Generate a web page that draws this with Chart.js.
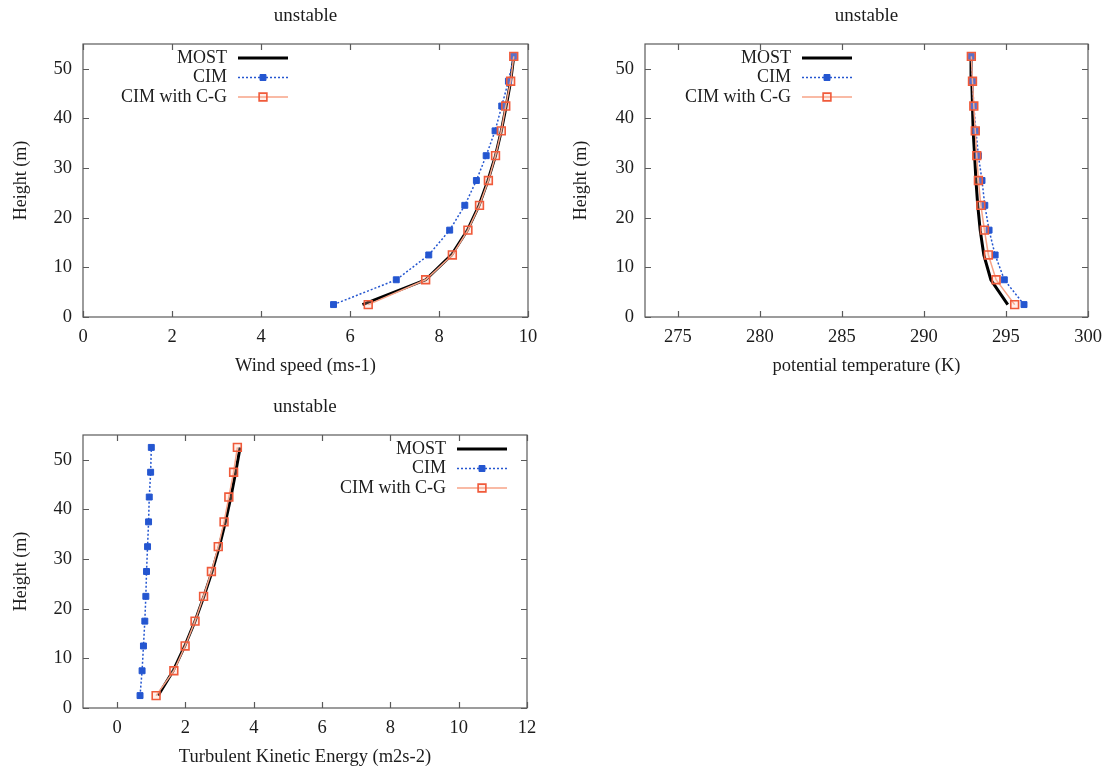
<!DOCTYPE html>
<html>
<head>
<meta charset="utf-8">
<script src="https://cdn.jsdelivr.net/npm/chart.js@4.4.1/dist/chart.umd.min.js"></script>
<style>
    html, body { margin: 0; padding: 0; background: #fff; }
    body { width: 1115px; height: 769px; position: relative; overflow: hidden; }
    canvas { position: absolute; }
</style>
</head>
<body>
<canvas id="windChart" width="560" height="385" style="left:0;top:0"></canvas>
<canvas id="thetaChart" width="555" height="385" style="left:560px;top:0"></canvas>
<canvas id="tkeChart" width="560" height="379" style="left:0;top:390px"></canvas>
<script>
// ------------------------------------------------------------
// data (heights in m, shared by all profiles)
// ------------------------------------------------------------
const heights = [2.5, 7.5, 12.5, 17.5, 22.5, 27.5, 32.5, 37.5, 42.5, 47.5, 52.5];
const heightTicks = [0, 10, 20, 30, 40, 50];
const seriesNames = ["MOST", "CIM", "CIM with C-G"];

// wind speed (ms-1)
const windMost  = [6.28, 7.70, 8.28, 8.64, 8.90, 9.10, 9.27, 9.40, 9.51, 9.61, 9.68];
const windCim   = [5.63, 7.04, 7.77, 8.24, 8.58, 8.84, 9.06, 9.26, 9.41, 9.56, 9.68];
const windCimCg = [6.41, 7.70, 8.30, 8.65, 8.91, 9.11, 9.27, 9.40, 9.50, 9.61, 9.68];
const windTicks = [0, 2, 4, 6, 8, 10];

// potential temperature (K)
const thetaMost  = [295.11, 294.08, 293.65, 293.43, 293.28, 293.17, 293.09, 293.00, 292.96, 292.92, 292.87];
const thetaCim   = [296.10, 294.90, 294.34, 293.97, 293.71, 293.54, 293.32, 293.17, 293.04, 292.96, 292.89];
const thetaCimCg = [295.53, 294.40, 293.93, 293.69, 293.47, 293.32, 293.22, 293.13, 293.04, 292.96, 292.89];
const thetaTicks = [275, 280, 285, 290, 295, 300];

// turbulent kinetic energy (m2s-2)
const tkeMost  = [1.20, 1.64, 1.98, 2.28, 2.54, 2.78, 2.99, 3.17, 3.33, 3.47, 3.60];
const tkeCim   = [0.67, 0.73, 0.77, 0.81, 0.84, 0.86, 0.89, 0.92, 0.94, 0.98, 1.00];
const tkeCimCg = [1.14, 1.66, 1.99, 2.28, 2.53, 2.76, 2.96, 3.13, 3.27, 3.41, 3.52];
const tkeTicks = [0, 2, 4, 6, 8, 10, 12];

// ------------------------------------------------------------
// styles
// ------------------------------------------------------------
const SERIF = '"Liberation Serif", "DejaVu Serif", serif';
const TEXT = "#1c1c1c";
const FRAME = "#5a5a5a";
const BLUE = "#2456d0";
const ORANGE = "#f05a3a";
const ORANGE_LINE = "#f7a387";

Chart.defaults.font.family = SERIF;
Chart.defaults.color = TEXT;

const toPoints = (xs) => xs.map((x, i) => ({ x: x, y: heights[i] }));

function makeDatasets(most, cim, cimCg) {
    return [
        {
            label: seriesNames[0],
            data: toPoints(most),
            borderColor: "#000",
            borderWidth: 3,
            pointRadius: 0,
            showLine: true,
            order: 2
        },
        {
            label: seriesNames[1],
            data: toPoints(cim),
            borderColor: BLUE,
            borderWidth: 1.5,
            borderDash: [2, 2],
            backgroundColor: BLUE,
            pointStyle: "rect",
            pointRadius: 4.2,
            pointBorderWidth: 1,
            pointBorderColor: BLUE,
            pointBackgroundColor: BLUE,
            showLine: true,
            order: 1
        },
        {
            label: seriesNames[2],
            data: toPoints(cimCg),
            borderColor: ORANGE_LINE,
            borderWidth: 1.5,
            pointStyle: "rect",
            pointRadius: 5.5,
            pointBorderWidth: 1.6,
            pointBorderColor: ORANGE,
            pointBackgroundColor: "rgba(255,190,170,0.25)",
            showLine: true,
            order: 0
        }
    ];
}

/**
 * gnuplot style frame: box, inward ticks on all sides,
 * title, axis titles and the right aligned legend
 */
const gnuFrame = {
    id: "gnuFrame",
    afterDraw(chart, args, opts) {
        const ctx = chart.ctx;
        const a = chart.chartArea;
        const xs = chart.scales.x;
        const ys = chart.scales.y;
        const tl = 6;

        ctx.save();
        ctx.strokeStyle = FRAME;
        ctx.lineWidth = 1.2;
        ctx.strokeRect(a.left, a.top, a.right - a.left, a.bottom - a.top);

        ctx.beginPath();
        xs.ticks.forEach(t => {
            const px = Math.round(xs.getPixelForValue(t.value)) + 0.5;
            ctx.moveTo(px, a.bottom); ctx.lineTo(px, a.bottom - tl);
            ctx.moveTo(px, a.top); ctx.lineTo(px, a.top + tl);
        });
        ys.ticks.forEach(t => {
            const py = Math.round(ys.getPixelForValue(t.value)) + 0.5;
            ctx.moveTo(a.left, py); ctx.lineTo(a.left + tl, py);
            ctx.moveTo(a.right, py); ctx.lineTo(a.right - tl, py);
        });
        ctx.stroke();

        // titles
        const cx = (a.left + a.right) / 2;
        ctx.fillStyle = TEXT;
        ctx.textAlign = "center";
        ctx.textBaseline = "middle";
        ctx.font = "19px " + SERIF;
        ctx.fillText(opts.title, cx, opts.titleY);
        ctx.font = "18.5px " + SERIF;
        ctx.fillText(opts.xTitle, cx, opts.xTitleY);

        ctx.save();
        ctx.translate(opts.yTitleX, (a.top + a.bottom) / 2);
        ctx.rotate(-Math.PI / 2);
        ctx.font = "18px " + SERIF;
        ctx.fillText("Height (m)", 0, 0);
        ctx.restore();

        // legend
        ctx.font = "18px " + SERIF;
        ctx.textAlign = "right";
        chart.data.datasets.forEach((ds, i) => {
            const y = opts.legendY + i * 19.5;
            ctx.fillStyle = TEXT;
            ctx.fillText(ds.label, opts.legendX, y);

            const x0 = opts.legendX + 11;
            const x1 = x0 + 50;
            ctx.save();
            ctx.strokeStyle = ds.borderColor;
            ctx.lineWidth = ds.borderWidth;
            ctx.setLineDash(ds.borderDash || []);
            ctx.beginPath();
            ctx.moveTo(x0, y); ctx.lineTo(x1, y);
            ctx.stroke();
            ctx.restore();

            if (ds.pointRadius > 0) {
                ctx.save();
                ctx.fillStyle = ds.pointBackgroundColor;
                ctx.strokeStyle = ds.pointBorderColor;
                ctx.lineWidth = ds.pointBorderWidth;
                Chart.helpers.drawPoint(ctx, {
                    pointStyle: ds.pointStyle,
                    radius: ds.pointRadius,
                    rotation: 0,
                    borderWidth: ds.pointBorderWidth
                }, (x0 + x1) / 2, y);
                ctx.restore();
            }
        });
        ctx.restore();
    }
};

function renderProfile(id, cfg) {
    const canvas = document.getElementById(id);
    if (!canvas) return;

    return new Chart(canvas, {
        type: "scatter",
        data: { datasets: makeDatasets(cfg.most, cfg.cim, cfg.cimCg) },
        options: {
            responsive: false,
            animation: false,
            events: [],
            layout: {
                padding: { left: 0, top: cfg.box.top, right: cfg.box.right, bottom: 0 }
            },
            plugins: {
                legend: { display: false },
                tooltip: { enabled: false },
                gnuFrame: cfg.frame
            },
            scales: {
                x: {
                    type: "linear",
                    min: cfg.xMin,
                    max: cfg.xMax,
                    afterBuildTicks: s => { s.ticks = cfg.xTicks.map(v => ({ value: v })); },
                    afterFit: s => { s.height = cfg.box.xHeight; },
                    grid: { display: false, drawTicks: false },
                    border: { display: false },
                    ticks: { padding: 9, font: { size: 18.5 }, color: TEXT, maxRotation: 0 }
                },
                y: {
                    type: "linear",
                    min: 0,
                    max: 55,
                    afterBuildTicks: s => { s.ticks = heightTicks.map(v => ({ value: v })); },
                    afterFit: s => { s.width = cfg.box.left; },
                    grid: { display: false, drawTicks: false },
                    border: { display: false },
                    ticks: { padding: 11, font: { size: 18.5 }, color: TEXT }
                }
            }
        },
        plugins: [gnuFrame]
    });
}

renderProfile("windChart", {
    most: windMost, cim: windCim, cimCg: windCimCg,
    xMin: 0, xMax: 10, xTicks: windTicks,
    box: { left: 83, top: 44, right: 32, xHeight: 68 },
    frame: { title: "unstable", titleY: 16, xTitle: "Wind speed (ms-1)", xTitleY: 366, yTitleX: 21, legendX: 227, legendY: 58 }
});

renderProfile("thetaChart", {
    most: thetaMost, cim: thetaCim, cimCg: thetaCimCg,
    xMin: 273, xMax: 300, xTicks: thetaTicks,
    box: { left: 85, top: 44, right: 27, xHeight: 68 },
    frame: { title: "unstable", titleY: 16, xTitle: "potential temperature (K)", xTitleY: 366, yTitleX: 21, legendX: 231, legendY: 58 }
});

renderProfile("tkeChart", {
    most: tkeMost, cim: tkeCim, cimCg: tkeCimCg,
    xMin: -1, xMax: 12, xTicks: tkeTicks,
    box: { left: 83, top: 45, right: 33, xHeight: 61 },
    frame: { title: "unstable", titleY: 17, xTitle: "Turbulent Kinetic Energy (m2s-2)", xTitleY: 367, yTitleX: 21, legendX: 446, legendY: 59 }
});
</script>
</body>
</html>
